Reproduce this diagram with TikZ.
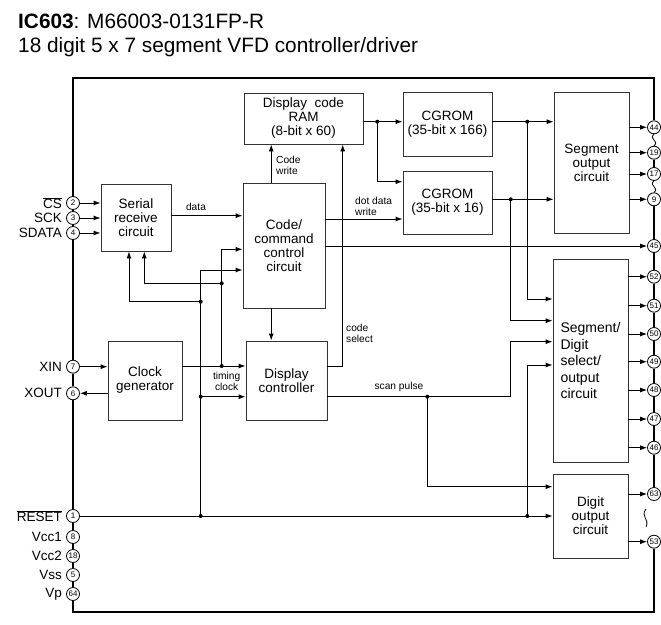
\documentclass[tikz,border=0pt]{standalone}
\usepackage{fontspec}
\setmainfont{Liberation Sans}
\usetikzlibrary{arrows.meta,calc}

\begin{document}
\begin{tikzpicture}[x=1pt, y=-1pt,
  blk/.style={draw=black!80, line width=0.9pt, align=center, inner sep=0pt,
              font=\fontsize{13.5}{14}\selectfont},
  pinc/.style={circle, draw, fill=white, line width=0.8pt, minimum size=13pt,
               inner sep=0pt, font=\fontsize{8}{8}\selectfont},
  pinlbl/.style={anchor=east, inner sep=0pt, xshift=-4pt, font=\fontsize{13.5}{14}\selectfont},
  lbl/.style={inner sep=0pt, align=left, font=\fontsize{10.2}{10.8}\selectfont},
  ttl/.style={anchor=base west, inner sep=0pt, font=\fontsize{20.8}{24}\selectfont},
  ar/.style={-{Latex[length=7pt,width=5pt]}, line width=0.9pt},
  frame/.style={line width=1.6pt},
  sq/.style={line width=0.8pt},
]
\useasboundingbox (0,0) rectangle (661,624);

% title
\node[ttl] (title1) at (18,28.3) {\textbf{IC603}: M66003-0131FP-R};
\node[ttl] (title2) at (18,52.7) {18 digit 5 x 7 segment VFD controller/driver};

% blocks
\node[blk, minimum width=119pt, minimum height=51pt]  (ram)    at (303.5,118.5) {Display\ \ code\\RAM\\(8-bit x 60)};
\node[blk, minimum width=70pt,  minimum height=67pt]  (serial) at (136,217.5)   {Serial\\receive\\circuit};
\node[blk, minimum width=82pt,  minimum height=125pt] (code)   at (284,245.5)   {Code/\\command\\control\\circuit};
\node[blk, minimum width=89pt,  minimum height=64pt]  (cg1)    at (447.5,124)   {CGROM\\(35-bit x 166)};
\node[blk, minimum width=89pt,  minimum height=63pt]  (cg2)    at (447.5,202.5) {CGROM\\(35-bit x 16)};
\node[blk, minimum width=75pt,  minimum height=141pt] (segout) at (591.5,162.5) {Segment\\output\\circuit};
\node[blk, minimum width=74pt,  minimum height=79pt]  (clk)    at (145,380.5)   {Clock\\generator};
\node[blk, minimum width=81pt,  minimum height=79pt]  (disp)   at (286.5,380.5) {Display\\controller};
\node[blk, minimum width=75pt,  minimum height=203pt, text width=60pt, align=left,
      font=\fontsize{14}{16.5}\selectfont]            (segdig) at (590.5,360.5) {Segment/\\Digit\\select/\\output\\circuit};
\node[blk, minimum width=75pt,  minimum height=84pt]  (digout) at (590.5,516)   {Digit\\output\\circuit};

% pins
\foreach \n/\y in {2/203,3/218,4/233,7/366.7,6/393.3,1/516,8/537,18/556,5/575,64/594}
  \node[pinc] (p\n) at (73,\y) {\n};
\foreach \n/\y in {44/127.3,19/152.7,17/174,9/199.3,45/246,52/276.7,51/305.7,50/334,
                   49/361.7,48/390,47/419,46/447.7,63/494,53/541.7}
  \node[pinc] (p\n) at (654,\y) {\n};
\foreach \n/\t in {2/{$\overline{\mbox{CS}}$},3/SCK,4/SDATA,7/XIN,6/XOUT,1/{$\overline{\mbox{RESET}}$},
                   8/Vcc1,18/Vcc2,5/Vss,64/Vp}
  \node[pinlbl] (l\n) at (p\n.west) {\t};

% frame
\coordinate (tl) at (73,78);
\coordinate (tr) at (654,78);
\coordinate (bl) at (73,612);
\coordinate (br) at (654,612);
\draw[frame] (p2.north) -- (tl) -- (tr) -- (p44.north);
\draw[frame] (p64.south) -- (bl) -- (br) -- (p53.south);
\foreach \a/\b in {p2/p3,p3/p4,p4/p7,p7/p6,p6/p1,p1/p8,p8/p18,p18/p5,p5/p64,
                   p19/p17,p9/p45,p45/p52,p52/p51,p51/p50,p50/p49,p49/p48,p48/p47,p47/p46,p46/p63}
  \draw[frame] (\a.south) -- (\b.north);
\draw[sq] (p44.south) .. controls +(-6,5) and +(6,-5) .. (p19.north);
\draw[sq] (p17.south) .. controls +(-6,5) and +(6,-5) .. (p9.north);
\draw[sq] ($(p63.south)+(-8,8)$) .. controls +(-6,8) and +(4,-8) .. ($(p53.north)+(-8,-8)$);

% columns, rows and junctions
\coordinate (xcw) at (271.2,0);
\coordinate (xcs) at (342.7,0);
\coordinate (xs1) at (129,0);
\coordinate (xs2) at (144.3,0);
\coordinate (rdata) at (0,215.7);
\coordinate (rdot)  at (0,219);
\coordinate (rcg2)  at (0,181.7);
\coordinate (rcin1) at (0,249.3);
\coordinate (rcin2) at (0,270);
\coordinate (rsel)  at (0,366);
\coordinate (rsd1)  at (0,299);
\coordinate (rsd2)  at (0,320.7);
\coordinate (rsd3)  at (0,341.7);
\coordinate (rsd4)  at (0,365);
\coordinate (rdg1)  at (0,486.7);
\coordinate (jr)  at (377.3,121.7);
\coordinate (j1)  at (527.3,121.7);
\coordinate (j2)  at (510.7,199.3);
\coordinate (jsp) at (427.3,396.7);
\coordinate (jra) at (200.7,516);
\coordinate (jrb) at (527.3,516);
\coordinate (ja1) at (200.7,301.7);
\coordinate (ja2) at (200.7,396.7);
\coordinate (jc)  at (221.7,366);
\coordinate (jc1) at (221.7,283.3);

% serial port in
\foreach \n in {2,3,4}
  \draw[ar] (p\n.east) -- (p\n.east -| serial.west);
\draw[ar] (serial.east |- rdata) -- (code.west |- rdata);

% code control out
\draw[ar] (code.north -| xcw) -- (ram.south -| xcw);
\draw[ar] (code.south -| xcw) -- (disp.north -| xcw);
\draw[ar] (disp.east |- rsel) -| (ram.south -| xcs);
\draw[ar] (code.east |- rdot) -- (cg2.west |- rdot);
\draw[ar] (code.east |- p45) -- (p45.west);

% RAM and CGROMs
\draw[ar] (ram.east |- jr) -- (cg1.west |- jr);
\draw[ar] (jr) |- (cg2.west |- rcg2);
\draw[ar] (cg1.east |- j1) -- (segout.west |- j1);
\draw[ar] (j1) |- (segdig.west |- rsd1);
\draw[ar] (cg2.east |- j2) -- (segout.west |- j2);
\draw[ar] (j2) |- (segdig.west |- rsd2);

% scan pulse
\draw[ar] (disp.east |- jsp) -| (j2 |- rsd3) -- (segdig.west |- rsd3);
\draw[ar] (jsp) |- (digout.west |- rdg1);

% reset
\draw[ar] (p1.east) -- (p1.east -| digout.west);
\draw[ar] (jrb) |- (segdig.west |- rsd4);
\draw[ar] (jra) |- (code.west |- rcin2);
\draw[ar] (ja1) -| (serial.south -| xs1);
\draw[ar] (ja2) -- (disp.west |- ja2);

% clock
\draw[ar] (p7.east) -- (p7.east -| clk.west);
\draw[ar] (clk.west |- p6) -- (p6.east);
\draw[ar] (clk.east |- jc) -- (disp.west |- jc);
\draw[ar] (jc) |- (code.west |- rcin1);
\draw[ar] (jc1) -| (serial.south -| xs2);

% outputs
\foreach \n in {44,19,17,9}
  \draw[ar] (segout.east |- p\n) -- (p\n.west);
\foreach \n in {52,51,50,49,48,47,46}
  \draw[ar] (segdig.east |- p\n) -- (p\n.west);
\foreach \n in {63,53}
  \draw[ar] (digout.east |- p\n) -- (p\n.west);

\foreach \j in {jr,j1,j2,jsp,jra,jrb,ja1,ja2,jc,jc1}
  \fill (\j) circle (2pt);

% signal labels
\node[lbl] (ldata) at (196,207) {data};
\node[lbl, anchor=west] (lcw) at (276,165.5) {Code\\write};
\node[lbl, anchor=west] (ldot) at (355,206.7) {dot data\\write};
\node[lbl, anchor=west] (lsel) at (346,333) {code\\select};
\node[lbl, align=center] (ltim) at (226.7,381) {timing\\clock};
\node[lbl] (lscan) at (399,387.3) {scan pulse};
\end{tikzpicture}
\end{document}
